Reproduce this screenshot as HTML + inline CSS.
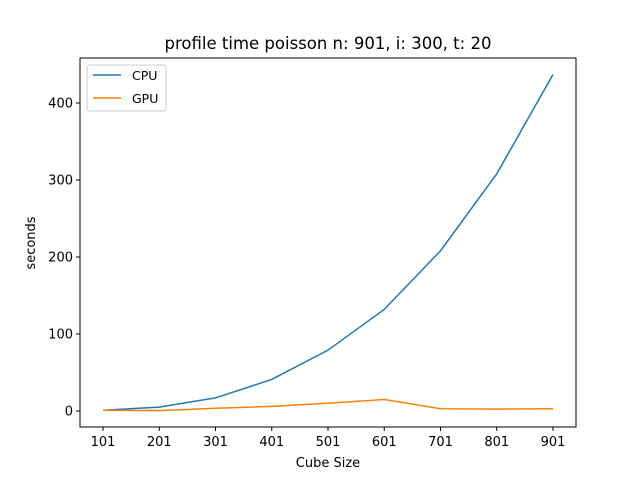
<!DOCTYPE html>
<html><head><meta charset="utf-8"><style>
body{margin:0;background:#fff;font-family:"DejaVu Sans","Liberation Sans",sans-serif;}
</style></head><body>
<svg id="chart" width="640" height="480" xmlns="http://www.w3.org/2000/svg" font-family="DejaVu Sans, Liberation Sans, sans-serif">
<rect width="640" height="480" fill="#fff"/>
<text x="328" y="49" text-anchor="middle" font-size="16.5">profile time poisson n: 901, i: 300, t: 20</text>
<g id="ticks"></g>
<g id="lines"></g>
<rect x="80" y="58" width="496" height="369" fill="none" stroke="#000" stroke-width="1"/>
<text x="328" y="467" text-anchor="middle" font-size="13">Cube Size</text>
<text transform="translate(35,243) rotate(-90)" text-anchor="middle" font-size="13">seconds</text>
<g>
<rect x="87" y="65" width="79" height="46" rx="3" fill="#fff" stroke="#ccc"/>
<line x1="93" y1="75" x2="121" y2="75" stroke="#1f77b4" stroke-width="1.5"/>
<text x="132" y="80" font-size="12.5">CPU</text>
<line x1="93" y1="98" x2="121" y2="98" stroke="#ff7f0e" stroke-width="1.5"/>
<text x="132" y="103" font-size="12.5">GPU</text>
</g>
</svg>
<script>
const categories=[101,201,301,401,501,601,701,801,901];
const cpuValues=[1,5,17,41,79,132,208,308,437];
const gpuValues=[1,0.5,3.5,6,10,15,3,2.5,3];
const yTicks=[0,100,200,300,400];
const NS="http://www.w3.org/2000/svg";
function xs(v){return 103+(v-101)*(553-103)/800;}
function ys(v){return 411-v*0.77;}
const tg=document.getElementById('ticks');
function mk(tag,attrs,parent){const e=document.createElementNS(NS,tag);for(const k in attrs)e.setAttribute(k,attrs[k]);parent.appendChild(e);return e;}
categories.forEach(c=>{
  const l=mk('line',{x1:xs(c),x2:xs(c),y1:427,y2:431,stroke:'#000'},tg);
  
  
  const t=mk('text',{x:xs(c),y:446,'text-anchor':'middle','font-size':13},tg);
  t.textContent=c;
  
  
});
yTicks.forEach(v=>{
  const l=mk('line',{x1:76,x2:80,y1:ys(v),y2:ys(v),stroke:'#000'},tg);
  
  
  const t=mk('text',{x:73,y:ys(v)+4.5,'text-anchor':'end','font-size':13},tg);
  t.textContent=v;
  
  
});
const lg=document.getElementById('lines');
function line(vals,color,name){
  const p=mk('polyline',{points:vals.map((v,i)=>xs(categories[i])+','+ys(v)).join(' '),fill:'none',stroke:color,'stroke-width':1.5},lg);
  
  
}
line(cpuValues,'#1f77b4','cpu-line');
line(gpuValues,'#ff7f0e','gpu-line');
</script>
</body></html>
